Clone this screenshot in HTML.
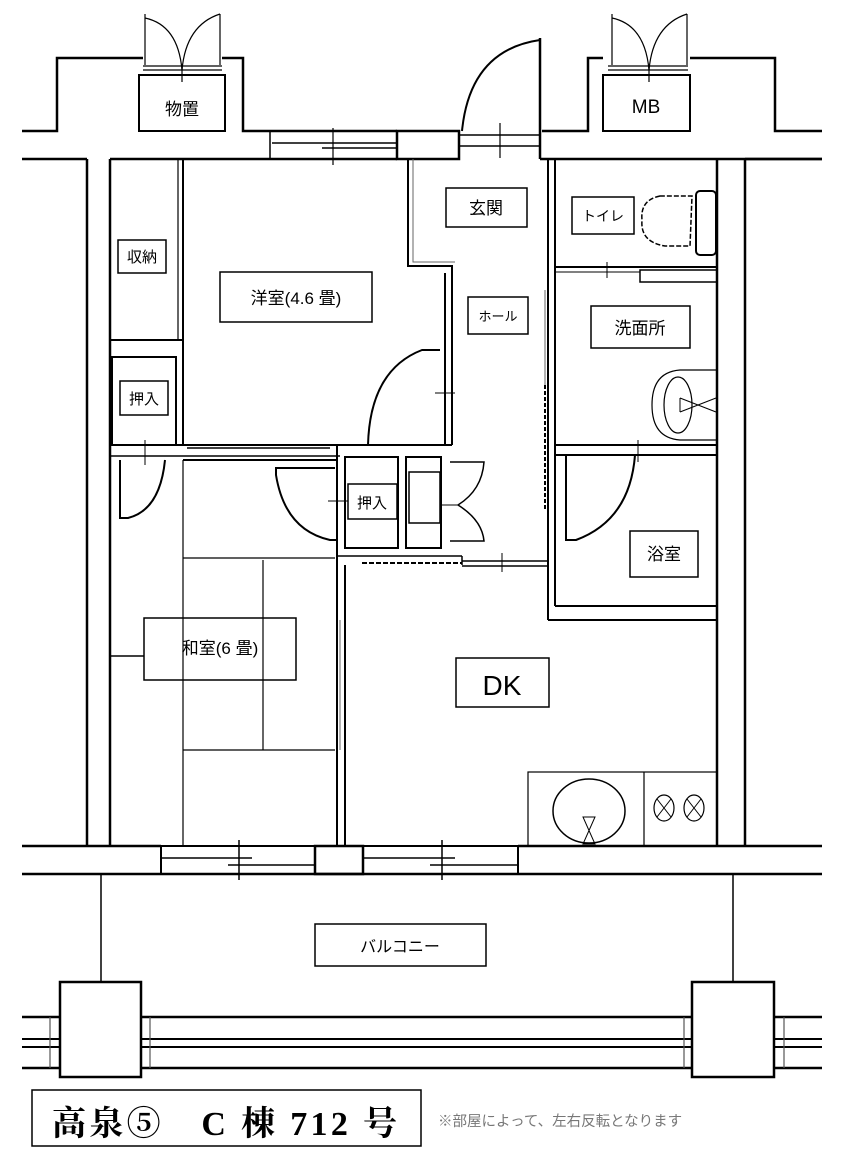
<!DOCTYPE html>
<html><head><meta charset="utf-8"><style>
html,body{margin:0;padding:0;background:#fff;}
svg{display:block;}
text{font-family:"Liberation Sans","Noto Sans CJK JP",sans-serif;fill:#000;}
text.ser{font-family:"Liberation Serif","Noto Serif CJK SC",serif;font-weight:bold;}
</style></head><body>
<svg width="842" height="1175" viewBox="0 0 842 1175" xmlns="http://www.w3.org/2000/svg">
<g fill="none" stroke="#000" stroke-width="2.5">
<polyline points="22,131 57,131 57,58 143,58"/>
<polyline points="222,58 243,58 243,131 270,131"/>
<rect x="139" y="75" width="86" height="56" stroke-width="2"/>
<polyline points="542,131 588,131 588,58 603,58"/>
<polyline points="690,58 775,58 775,131 822,131"/>
<rect x="603" y="75" width="87" height="56" stroke-width="2"/>
<g stroke-width="1.2">
<line x1="145" y1="14" x2="145" y2="65"/><line x1="220" y1="14" x2="220" y2="65"/>
<path d="M145,18 Q178,25 182,70"/><path d="M220,14 Q186,25 182,70"/>
<line x1="182" y1="66" x2="182" y2="82"/>
<line x1="143" y1="66" x2="222" y2="66"/><line x1="143" y1="70" x2="222" y2="70"/>
<line x1="612" y1="14" x2="612" y2="65"/><line x1="687" y1="14" x2="687" y2="65"/>
<path d="M612,18 Q645,25 649,70"/><path d="M687,14 Q653,25 649,70"/>
<line x1="649" y1="66" x2="649" y2="82"/>
<line x1="608" y1="66" x2="688" y2="66"/><line x1="608" y1="70" x2="688" y2="70"/>
</g>
<line x1="270" y1="131" x2="397" y2="131"/>
<line x1="270" y1="159" x2="397" y2="159"/>
<line x1="272" y1="143" x2="397" y2="143" stroke-width="1.5"/>
<line x1="322" y1="148" x2="397" y2="148" stroke-width="1.5"/>
<line x1="270" y1="131" x2="270" y2="159" stroke-width="1.5"/>
<line x1="333" y1="128" x2="333" y2="165" stroke-width="1.2"/>
<rect x="397" y="131" width="62" height="28"/>
<line x1="459" y1="135" x2="540" y2="135" stroke-width="1.5"/>
<line x1="459" y1="146" x2="540" y2="146" stroke-width="1.5"/>
<line x1="540" y1="38" x2="540" y2="159"/>
<path d="M540,40 Q470,50 462,131" stroke-width="2"/>
<line x1="500" y1="123" x2="500" y2="158" stroke-width="1.2"/>
<line x1="540" y1="159" x2="822" y2="159"/>
<line x1="22" y1="159" x2="87" y2="159"/>
<line x1="110" y1="159" x2="270" y2="159"/>
<line x1="745" y1="159" x2="822" y2="159"/>
<line x1="87" y1="159" x2="87" y2="846"/>
<line x1="110" y1="159" x2="110" y2="846"/>
<line x1="717" y1="159" x2="717" y2="846"/>
<line x1="745" y1="159" x2="745" y2="846"/>
<line x1="22" y1="846" x2="161" y2="846"/>
<line x1="518" y1="846" x2="822" y2="846"/>
<line x1="22" y1="874" x2="822" y2="874"/>
<rect x="161" y="846" width="154" height="28" stroke-width="2"/>
<rect x="315" y="846" width="48" height="28"/>
<rect x="363" y="846" width="155" height="28" stroke-width="2"/>
<g stroke-width="1.5">
<line x1="161" y1="858" x2="252" y2="858"/><line x1="228" y1="865" x2="315" y2="865"/>
<line x1="363" y1="858" x2="455" y2="858"/><line x1="430" y1="865" x2="518" y2="865"/>
<line x1="239" y1="840" x2="239" y2="880"/><line x1="442" y1="840" x2="442" y2="880"/>
</g>
<line x1="101" y1="874" x2="101" y2="981" stroke-width="1.5"/>
<line x1="733" y1="874" x2="733" y2="981" stroke-width="1.5"/>
<line x1="22" y1="1017" x2="822" y2="1017"/>
<line x1="22" y1="1039" x2="822" y2="1039" stroke-width="2"/>
<line x1="22" y1="1047" x2="822" y2="1047" stroke-width="2"/>
<line x1="22" y1="1068" x2="822" y2="1068"/>
<g stroke-width="1.2" stroke="#555">
<line x1="50" y1="1017" x2="50" y2="1068"/><line x1="150" y1="1017" x2="150" y2="1068"/>
<line x1="684" y1="1017" x2="684" y2="1068"/><line x1="784" y1="1017" x2="784" y2="1068"/>
</g>
<rect x="60" y="982" width="81" height="95" fill="#fff"/>
<rect x="692" y="982" width="82" height="95" fill="#fff"/>
<rect x="315" y="924" width="171" height="42" stroke-width="1.5"/>
<line x1="178" y1="159" x2="178" y2="340" stroke-width="1.2"/>
<line x1="183" y1="159" x2="183" y2="445" stroke-width="2"/>
<line x1="110" y1="340" x2="183" y2="340" stroke-width="2"/>
<rect x="112" y="357" width="64" height="88" stroke-width="2"/>
<rect x="118" y="240" width="48" height="33" stroke-width="1.5"/>
<rect x="120" y="381" width="48" height="34" stroke-width="1.5"/>
<polyline points="408,159 408,266 452,266 452,445" stroke-width="2"/>
<polyline points="413,159 413,262 455,262" stroke-width="1" stroke="#666"/>
<line x1="445" y1="273" x2="445" y2="445" stroke-width="2"/>
<line x1="183" y1="445" x2="452" y2="445" stroke-width="2"/>
<path d="M440,350 L422,350 Q370,370 368,445" stroke-width="2"/>
<line x1="435" y1="393" x2="455" y2="393" stroke-width="1"/>
<rect x="220" y="272" width="152" height="50" stroke-width="1.5"/>
<rect x="446" y="188" width="81" height="39" stroke-width="1.5"/>
<rect x="468" y="297" width="60" height="37" stroke-width="1.5"/>
<line x1="548" y1="159" x2="548" y2="620" stroke-width="2"/>
<line x1="555" y1="159" x2="555" y2="606" stroke-width="2"/>
<line x1="548" y1="620" x2="717" y2="620" stroke-width="2"/>
<line x1="555" y1="606" x2="717" y2="606" stroke-width="2"/>
<line x1="545" y1="290" x2="545" y2="385" stroke-width="1" stroke="#666"/>
<line x1="545" y1="385" x2="545" y2="510" stroke-width="2" stroke-dasharray="4,2"/>
<line x1="555" y1="267" x2="717" y2="267" stroke-width="2"/>
<line x1="555" y1="272" x2="640" y2="272" stroke-width="1"/>
<line x1="640" y1="267" x2="717" y2="267" stroke-width="2" stroke-dasharray="5,3"/>
<rect x="640" y="270" width="77" height="12" stroke-width="1.5"/>
<line x1="607" y1="262" x2="607" y2="278" stroke-width="1"/>
<rect x="572" y="197" width="62" height="37" stroke-width="1.5"/>
<path d="M660,196 Q640,200 642,220 Q640,242 665,246 L690,246 L692,196 Z" stroke-width="1.5" stroke-dasharray="5,2"/>
<rect x="696" y="191" width="20" height="64" rx="4" stroke-width="2"/>
<rect x="591" y="306" width="99" height="42" stroke-width="1.5"/>
<path d="M717,370 L680,370 Q652,372 652,405 Q652,438 680,440 L717,440" stroke-width="1.2"/>
<ellipse cx="678" cy="405" rx="14" ry="28" stroke-width="1.2"/>
<path d="M680,398 L716,412 M680,412 L716,398 M680,398 L680,412" stroke-width="1"/>
<line x1="555" y1="445" x2="717" y2="445" stroke-width="2"/>
<line x1="555" y1="455" x2="717" y2="455" stroke-width="2"/>
<path d="M566,455 L566,540 L576,540 Q630,520 635,455" stroke-width="2"/>
<line x1="638" y1="440" x2="638" y2="462" stroke-width="1"/>
<rect x="630" y="531" width="68" height="46" stroke-width="1.5"/>
<line x1="110" y1="445" x2="183" y2="445" stroke-width="2"/>
<line x1="110" y1="456" x2="340" y2="456" stroke-width="1.5"/>
<path d="M120,460 L120,518 L128,518 Q160,510 165,460" stroke-width="2"/>
<line x1="145" y1="440" x2="145" y2="465" stroke-width="1"/>
<line x1="187" y1="448" x2="330" y2="448" stroke-width="1.5"/>
<line x1="183" y1="460" x2="183" y2="846" stroke-width="1.2"/>
<line x1="183" y1="460" x2="337" y2="460" stroke-width="2"/>
<line x1="183" y1="558" x2="335" y2="558" stroke-width="1.2"/>
<line x1="263" y1="560" x2="263" y2="750" stroke-width="1.2"/>
<line x1="183" y1="750" x2="335" y2="750" stroke-width="1.2"/>
<line x1="110" y1="656" x2="144" y2="656" stroke-width="1.5"/>
<rect x="144" y="618" width="152" height="62" stroke-width="1.5"/>
<line x1="337" y1="445" x2="337" y2="846" stroke-width="2"/>
<line x1="345" y1="565" x2="345" y2="846" stroke-width="2"/>
<line x1="340" y1="620" x2="340" y2="750" stroke-width="1" stroke="#666"/>
<path d="M335,468 L276,468 L276,475 Q285,530 330,540 L337,540" stroke-width="2"/>
<rect x="345" y="457" width="53" height="91" stroke-width="2"/>
<rect x="406" y="457" width="35" height="91" stroke-width="2"/>
<rect x="409" y="472" width="31" height="51" stroke-width="1.5"/>
<rect x="348" y="484" width="49" height="35" stroke-width="1.5"/>
<line x1="328" y1="501" x2="348" y2="501" stroke-width="1"/>
<path d="M450,462 L484,462 Q482,490 458,505 Q482,520 484,541 L450,541" stroke-width="1.5"/>
<line x1="440" y1="505" x2="458" y2="505" stroke-width="1"/>
<line x1="337" y1="556" x2="462" y2="556" stroke-width="1.5"/>
<line x1="362" y1="563" x2="462" y2="563" stroke-width="2" stroke-dasharray="5,2"/>
<line x1="462" y1="556" x2="462" y2="565" stroke-width="1.5"/>
<line x1="462" y1="561" x2="548" y2="561" stroke-width="1.5"/>
<line x1="462" y1="566" x2="548" y2="566" stroke-width="1.5"/>
<line x1="502" y1="553" x2="502" y2="572" stroke-width="1"/>
<rect x="456" y="658" width="93" height="49" stroke-width="1.5"/>
<rect x="528" y="772" width="189" height="74" stroke-width="1.2"/>
<line x1="644" y1="772" x2="644" y2="846" stroke-width="1.2"/>
<ellipse cx="589" cy="811" rx="36" ry="32" stroke-width="1.5"/>
<path d="M583,817 L595,817 L583,844 L595,844 Z" stroke-width="1"/>
<ellipse cx="664" cy="808" rx="10" ry="13" stroke-width="1.2"/>
<path d="M657,799 L671,817 M671,799 L657,817" stroke-width="1"/>
<ellipse cx="694" cy="808" rx="10" ry="13" stroke-width="1.2"/>
<path d="M687,799 L701,817 M701,799 L687,817" stroke-width="1"/>
<rect x="32" y="1090" width="389" height="56" stroke-width="1.5"/>
</g>
<g font-size="17">
<text x="182" y="115" text-anchor="middle">物置</text>
<text x="646" y="113" text-anchor="middle" font-size="19">MB</text>
<text x="142" y="262" text-anchor="middle" font-size="15">収納</text>
<text x="296" y="304" text-anchor="middle">洋室(4.6 畳)</text>
<text x="486" y="214" text-anchor="middle">玄関</text>
<text x="603" y="221" text-anchor="middle" font-size="14">トイレ</text>
<text x="498" y="321" text-anchor="middle" font-size="13">ホール</text>
<text x="640" y="334" text-anchor="middle">洗面所</text>
<text x="144" y="404" text-anchor="middle" font-size="15">押入</text>
<text x="372" y="508" text-anchor="middle" font-size="15">押入</text>
<text x="664" y="560" text-anchor="middle">浴室</text>
<text x="220" y="654" text-anchor="middle">和室(6 畳)</text>
<text x="502" y="695" text-anchor="middle" font-size="28">DK</text>
<text x="400" y="952" text-anchor="middle" font-size="16">バルコニー</text>
</g>
<text class="ser" x="52" y="1135" font-size="34" textLength="345" lengthAdjust="spacing">高泉⑤　C 棟 712 号</text>
<text x="438" y="1126" font-size="14.5" style="fill:#777">※部屋によって、左右反転となります</text>
</svg>
</body></html>
